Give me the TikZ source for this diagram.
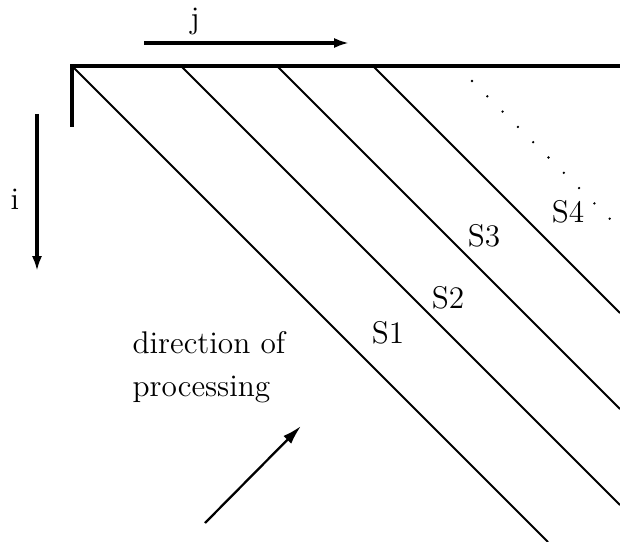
\documentclass[tikz,border=0pt]{standalone}
\usetikzlibrary{arrows.meta}
\newcommand{\lbltext}[1]{\scalebox{0.81}{\fontsize{12}{14}\selectfont #1}}
\begin{document}
\begin{tikzpicture}[x=0.31pt,y=-0.31pt,
  lbl/.style={inner sep=0pt,anchor=base},
  thickarrow/.style={line width=1pt,-{Latex[length=4.6pt,width=3.1pt]}},
  thinarrow/.style={line width=0.7pt,-{Latex[length=6pt,width=3.4pt]}},
  diag/.style={line width=0.6pt},
  dotmark/.style={fill=black,inner sep=0pt,minimum size=0.8pt,circle}]
\useasboundingbox (0,0) rectangle (620,542);
% frame
\coordinate (tl) at (72,66);
\coordinate (tr) at (620,66);
\coordinate (tick) at (72,127);
\draw[line width=1pt] (tick) -- (tl) -- (tr);
% axis arrows
\coordinate (ja) at (144,43);
\coordinate (jb) at (349,43);
\draw[thickarrow] (ja) -- (jb);
\node[lbl] (jl) at (195,29) {\lbltext{j}};
\coordinate (ia) at (37,114);
\coordinate (ib) at (37,271);
\draw[thickarrow] (ia) -- (ib);
\node[lbl] (il) at (15,210) {\lbltext{i}};
% diagonals
\coordinate (d1a) at (72,66);   \coordinate (d1b) at (548,542);
\coordinate (d2a) at (181,66);  \coordinate (d2b) at (620,505);
\coordinate (d3a) at (277,66);  \coordinate (d3b) at (620,409);
\coordinate (d4a) at (373,66);  \coordinate (d4b) at (620,313);
\draw[diag] (d1a) -- (d1b);
\draw[diag] (d2a) -- (d2b);
\draw[diag] (d3a) -- (d3b);
\draw[diag] (d4a) -- (d4b);
% dots
\foreach \k in {0,...,9}{
  \node[dotmark] (dot\k) at ({472+15.3*\k},{81+15.3*\k}) {};
}
% labels
\node[lbl] (s1) at (388,343) {\lbltext{S1}};
\node[lbl] (s2) at (448,308) {\lbltext{S2}};
\node[lbl] (s3) at (484,247) {\lbltext{S3}};
\node[lbl] (s4) at (568,223) {\lbltext{S4}};
\node[lbl,anchor=base west] (dir1) at (132,353) {\lbltext{direction of}};
\node[lbl,anchor=base west] (dir2) at (132,396) {\lbltext{processing}};
% processing arrow
\coordinate (pa) at (205,523);
\coordinate (pb) at (301,426);
\draw[thinarrow] (pa) -- (pb);
\end{tikzpicture}
\end{document}
